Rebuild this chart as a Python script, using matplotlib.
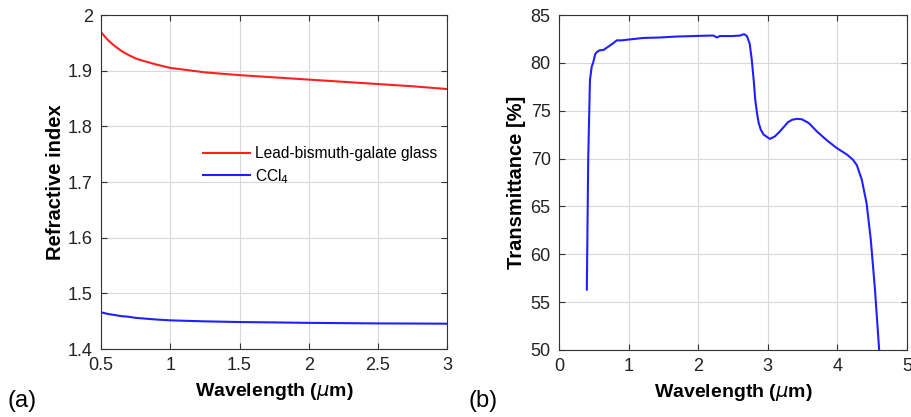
import matplotlib
matplotlib.use("Agg")
import matplotlib.pyplot as plt

plt.rcParams['font.family'] = ['Liberation Sans', 'DejaVu Sans']
plt.rcParams['mathtext.fontset'] = 'dejavusans'

# (a) refractive index vs wavelength
wl_a = [0.5, 0.55, 0.6, 0.65, 0.7, 0.75, 0.8, 0.9, 1.0, 1.25, 1.5, 1.75, 2.0, 2.25, 2.5, 2.75, 3.0]
n_glass = [1.969, 1.955, 1.944, 1.935, 1.928, 1.922, 1.918, 1.911, 1.905, 1.897, 1.892, 1.888, 1.884, 1.880, 1.876, 1.872, 1.867]
n_ccl4 = [1.466, 1.463, 1.461, 1.459, 1.458, 1.456, 1.455, 1.453, 1.4515, 1.4497, 1.4485, 1.4478, 1.447, 1.4465, 1.446, 1.4458, 1.4455]

# (b) transmittance
wl_b = [0.40, 0.42, 0.445, 0.47, 0.49, 0.52, 0.54, 0.58, 0.64, 0.71, 0.77, 0.83, 0.9, 1.02, 1.21, 1.45, 1.69, 1.93, 2.17,
        2.22, 2.27, 2.31, 2.36, 2.48, 2.6, 2.66, 2.70, 2.74, 2.77, 2.80, 2.82, 2.85, 2.87, 2.90, 2.94, 3.03, 3.1,
        3.17, 3.23, 3.29, 3.35, 3.42, 3.49, 3.59, 3.71, 3.85, 3.99, 4.14, 4.22, 4.28, 4.35, 4.42, 4.48, 4.54, 4.6, 4.62]
trans = [56.3, 70.0, 78.2, 79.6, 80.0, 80.9, 81.1, 81.3, 81.35, 81.7, 82.0, 82.35, 82.35, 82.45, 82.6, 82.65, 82.75, 82.8, 82.85,
         82.85, 82.65, 82.8, 82.8, 82.8, 82.85, 83.0, 82.8, 82.0, 80.3, 78.0, 76.1, 74.5, 73.7, 73.0, 72.5, 72.05, 72.3,
         72.8, 73.3, 73.8, 74.05, 74.15, 74.1, 73.7, 72.8, 71.9, 71.1, 70.4, 69.9, 69.3, 67.8, 65.3, 61.5, 56.3, 50.0, 49.0]

fig = plt.figure(figsize=(9.11, 4.17), dpi=100)
ax1 = fig.add_axes([0.1109, 0.163, 0.380, 0.801])
ax2 = fig.add_axes([0.6136, 0.161, 0.382, 0.803])

for ax in (ax1, ax2):
    ax.grid(True, color='#d8d8d8', linewidth=0.8)
    ax.set_axisbelow(True)
    ax.tick_params(direction='in', top=True, right=True, labelsize=13, length=4, color='#333333', pad=6,
                   labelcolor='#222222')
    for s in ax.spines.values():
        s.set_color('#333333')
        s.set_linewidth(0.8)

ax1.plot(wl_a, n_glass, color='#ff2020', lw=1.5, label='Lead-bismuth-galate glass')
ax1.plot(wl_a, n_ccl4, color='#2020ff', lw=1.5, label=r'CCl$_4$')
ax1.set_xlim(0.5, 3)
ax1.set_ylim(1.4, 2)
ax1.set_xticks([0.5, 1, 1.5, 2, 2.5, 3])
ax1.set_xticklabels(['0.5', '1', '1.5', '2', '2.5', '3'])
ax1.set_yticks([1.4, 1.5, 1.6, 1.7, 1.8, 1.9, 2])
ax1.set_yticklabels(['1.4', '1.5', '1.6', '1.7', '1.8', '1.9', '2'])
ax1.set_xlabel(r'Wavelength ($\mu$m)', fontsize=14, fontweight='bold', labelpad=5)
ax1.set_ylabel('Refractive index', fontsize=14.5, fontweight='bold', labelpad=2)
ax1.legend(frameon=False, loc='center left', bbox_to_anchor=(0.255, 0.548), fontsize=11.2,
           handlelength=3.0, handletextpad=0.3, labelspacing=0.35)

ax2.plot(wl_b, trans, color='#2020ff', lw=1.5)
ax2.set_xlim(0, 5)
ax2.set_ylim(50, 85)
ax2.set_xticks([0, 1, 2, 3, 4, 5])
ax2.set_yticks([50, 55, 60, 65, 70, 75, 80, 85])
ax2.set_xlabel(r'Wavelength ($\mu$m)', fontsize=14, fontweight='bold', labelpad=5)
ax2.set_ylabel('Transmittance [%]', fontsize=14.5, fontweight='bold', labelpad=3)

fig.text(0.008, 0.025, '(a)', fontsize=17)
fig.text(0.514, 0.025, '(b)', fontsize=17)

fig.savefig('out.png', dpi=100)
